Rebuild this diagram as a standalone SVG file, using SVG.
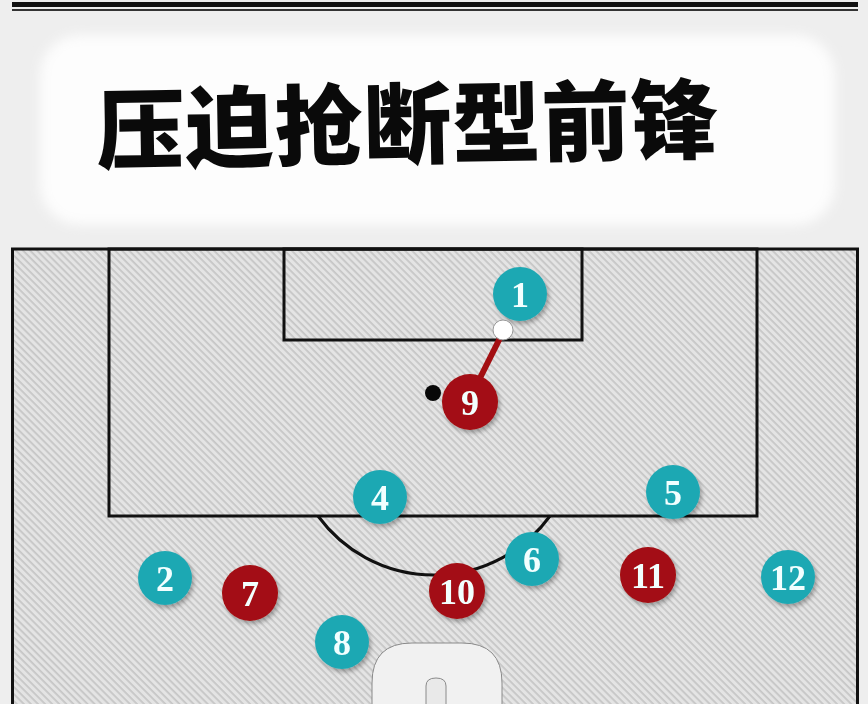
<svg xmlns="http://www.w3.org/2000/svg" width="868" height="704" viewBox="0 0 868 704">
<defs>
<pattern id="tex" width="5" height="5" patternUnits="userSpaceOnUse" patternTransform="rotate(45)">
<rect width="5" height="5" fill="#e4e4e4"/>
<rect x="0" y="0" width="5" height="1.8" fill="#c6c6c6"/>
</pattern>
<filter id="sh" x="-30%" y="-30%" width="160%" height="160%">
<feDropShadow dx="2" dy="3" stdDeviation="2" flood-color="#000" flood-opacity="0.3"/>
</filter>
<filter id="blur" x="-10%" y="-10%" width="120%" height="120%">
<feGaussianBlur stdDeviation="6"/>
</filter>
</defs>
<style>
.line{fill:none;stroke:#111;stroke-width:3}
.teal{fill:#1fa8b3}
.red{fill:#a30f12}
.num{font-family:"Liberation Serif",serif;font-weight:bold;font-size:36px;fill:#f2ffff;text-anchor:middle;dominant-baseline:central}
</style>
<rect width="868" height="704" fill="#eeeeee"/>
<rect x="40" y="35" width="795" height="190" rx="40" fill="#fdfdfd" filter="url(#blur)"/>
<rect x="12" y="2" width="846" height="5" fill="#111"/>
<rect x="12" y="9" width="846" height="2" fill="#333"/>
<g id="title">
<text x="408" y="157" transform="rotate(-1 408 125)" font-family="Noto Sans CJK SC, sans-serif" font-weight="900" font-size="88" text-anchor="middle" fill="#0a0a0a" letter-spacing="1">压迫抢断型前锋</text>
</g>
<g id="pitch">
<rect x="12.5" y="249" width="845" height="470" fill="url(#tex)" stroke="#111" stroke-width="3"/>
<rect x="109" y="249" width="648" height="267" class="line"/>
<rect x="284" y="249" width="298" height="91" class="line"/>
<path d="M318,516 A143.5,143.5 0 0 0 550,516" class="line"/>
<path d="M372,704 V683 Q372,643 412,643 H462 Q502,643 502,683 V704" fill="#f1f1f1" stroke="#8a8a8a" stroke-width="1"/>
<path d="M426,704 V686 Q426,678 436,678 Q446,678 446,686 V704" fill="#e9e9e9" stroke="#8a8a8a" stroke-width="1"/>
</g>
<g id="connectors">
<line x1="502" y1="334" x2="478" y2="382" stroke="#a30f12" stroke-width="6"/>
</g>
<g id="p1" filter="url(#sh)"><circle cx="520" cy="294" r="27" class="teal"/><text x="520" y="295" class="num">1</text></g>
<g id="ball"><circle cx="503" cy="330" r="10" fill="#fff" stroke="#999" stroke-width="1"/></g>
<g id="p9" filter="url(#sh)"><circle cx="470" cy="402" r="28" class="red"/><text x="470" y="403" class="num">9</text></g>
<g id="dot"><circle cx="433" cy="393" r="8" fill="#080808"/></g>
<g id="p4" filter="url(#sh)"><circle cx="380" cy="497" r="27" class="teal"/><text x="380" y="498" class="num">4</text></g>
<g id="p5" filter="url(#sh)"><circle cx="673" cy="492" r="27" class="teal"/><text x="673" y="493" class="num">5</text></g>
<g id="p6" filter="url(#sh)"><circle cx="532" cy="559" r="27" class="teal"/><text x="532" y="560" class="num">6</text></g>
<g id="p10" filter="url(#sh)"><circle cx="457" cy="591" r="28" class="red"/><text x="457" y="592" class="num">10</text></g>
<g id="p2" filter="url(#sh)"><circle cx="165" cy="578" r="27" class="teal"/><text x="165" y="579" class="num">2</text></g>
<g id="p7" filter="url(#sh)"><circle cx="250" cy="593" r="28" class="red"/><text x="250" y="594" class="num">7</text></g>
<g id="p8" filter="url(#sh)"><circle cx="342" cy="642" r="27" class="teal"/><text x="342" y="643" class="num">8</text></g>
<g id="p11" filter="url(#sh)"><circle cx="648" cy="575" r="28" class="red"/><text x="648" y="576" class="num">11</text></g>
<g id="p12" filter="url(#sh)"><circle cx="788" cy="577" r="27" class="teal"/><text x="788" y="578" class="num">12</text></g>
</svg>
